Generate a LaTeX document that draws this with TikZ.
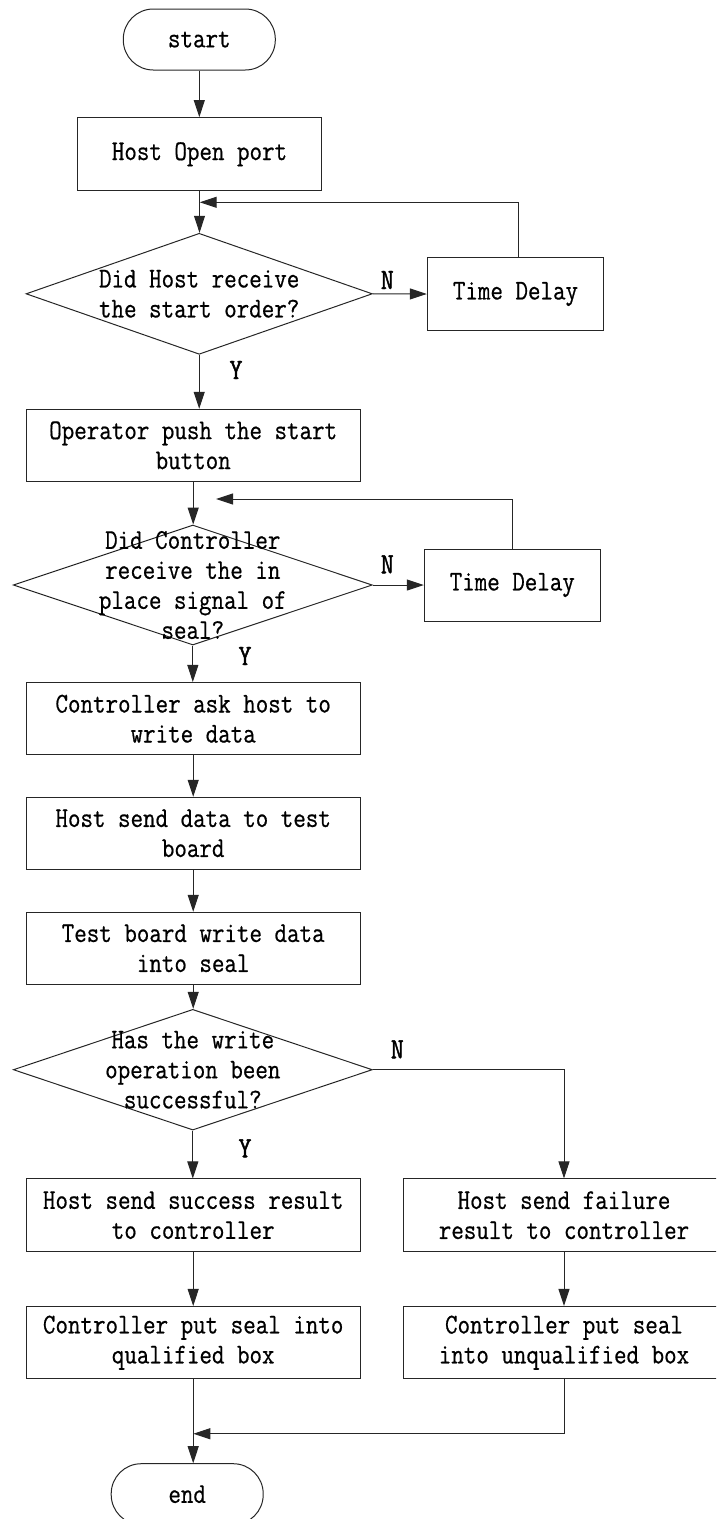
\documentclass[tikz,border=0pt]{standalone}
\usepackage{fontspec}
\newfontfamily\flowfont[FakeStretch=0.85,FakeBold=0.6]{Latin Modern Mono}
\newfontfamily\markfont[FakeStretch=0.85,FakeBold=1.4]{Latin Modern Mono}
\usetikzlibrary{arrows.meta,shapes.geometric}

\tikzset{
  flowtext/.style={font=\flowfont\fontsize{28.6}{30}\selectfont, align=center, text=black, inner sep=0pt},
  process/.style={flowtext, draw=black!85, line width=1pt, rectangle, minimum height=72.5pt},
  terminal/.style={flowtext, draw=black!85, line width=1pt, rectangle, rounded corners=30pt,
                   minimum width=152pt, minimum height=61pt},
  decision/.style={draw=black!85, line width=1pt, diamond, inner sep=0pt},
  flow/.style={draw=black!85, line width=1pt, -{Triangle[length=17pt,width=11pt]}},
  yn/.style={font=\markfont\fontsize{29.5}{30}\selectfont, text=black, inner sep=0pt}
}

\begin{document}
\begin{tikzpicture}[x=1pt,y=-1pt]
  \useasboundingbox (0,0) rectangle (716,1519);
  \clip (0,0) rectangle (716,1519);

  % main column
  \node[terminal] (start) at (199.3,39.5) {start};
  \node[process, minimum width=243.7pt, minimum height=73.3pt] (open) at (199.5,154.3) {Host Open port};
  \node[decision, minimum width=346.3pt, minimum height=121pt,
        label={[flowtext]center:Did Host receive\\the start order?}] (q1) at (199.2,293.8) {};
  \node[process, minimum width=176.4pt] (wait1) at (515.5,294) {Time Delay};

  \node[process, minimum width=334.3pt, minimum height=72pt] (push) at (193.2,445.3) {Operator push the start\\button};
  \node[decision, minimum width=359pt, minimum height=120pt,
        label={[flowtext]center:Did Controller\\receive the in\\place signal of\\seal?}] (q2) at (192.8,585) {};
  \node[process, minimum width=176pt, minimum height=72pt] (wait2) at (512.3,585) {Time Delay};

  \node[process, minimum width=334.3pt] (ask) at (193.2,718.7) {Controller ask host to\\write data};
  \node[process, minimum width=334.3pt, minimum height=72pt] (send) at (193.2,833.3) {Host send data to test\\board};
  \node[process, minimum width=334.3pt, minimum height=72pt] (write) at (193.2,948.3) {Test board write data\\into seal};
  \node[decision, minimum width=359pt, minimum height=120.7pt,
        label={[flowtext]center:Has the write\\operation been\\successful?}] (q3) at (192.8,1069.7) {};

  % success branch
  \node[process, minimum width=334.3pt] (okres) at (193.2,1215.2) {Host send success result\\to controller};
  \node[process, minimum width=334.3pt] (okbox) at (193.2,1342.7) {Controller put seal into\\qualified box};

  % failure branch
  \node[process, minimum width=321.4pt] (badres) at (564,1215.2) {Host send failure\\result to controller};
  \node[process, minimum width=321.4pt] (badbox) at (564,1342.7) {Controller put seal\\into unqualified box};

  \node[terminal] (end) at (187.2,1494.2) {end};

  % junction points of the return lines
  \coordinate (back1) at (199.7,202.3);
  \coordinate (back2) at (216,499);
  \coordinate (merge) at (193.3,1433.7);

  % connectors
  \draw[flow] (start) -- (start.south |- open.north);
  \draw[flow] (open) -- (open.south |- q1.north);
  \draw[flow] (q1.east) -- (wait1.west);
  \draw[flow] ([xshift=2.8pt]wait1.north) |- (back1);
  \draw[flow] (q1.south) -- (q1.south |- push.north);

  \draw[flow] (push.south) -- (push.south |- q2.north);
  \draw[flow] (q2.east) -- (wait2.west);
  \draw[flow] (wait2.north) |- (back2);
  \draw[flow] (q2.south) -- (q2.south |- ask.north);

  \draw[flow] (ask) -- (send);
  \draw[flow] (send) -- (write);
  \draw[flow] (write.south) -- (write.south |- q3.north);

  \draw[flow] (q3.south) -- (q3.south |- okres.north);
  \draw[flow] (q3.east) -| (badres.north);
  \draw[flow] (okres) -- (okbox);
  \draw[flow] (badres) -- (badbox);

  \draw[flow] (okbox.south) -- (okbox.south |- end.north);
  \draw[flow] (badbox.south) |- (merge);

  % branch labels
  \node[yn] (n1) at (387.3,280) {N};
  \node[yn] (y1) at (236,370) {Y};
  \node[yn] (n2) at (387.3,564.3) {N};
  \node[yn] (y2) at (245,656) {Y};
  \node[yn] (n3) at (397.3,1049.3) {N};
  \node[yn] (y3) at (245,1148.3) {Y};
\end{tikzpicture}
\end{document}
